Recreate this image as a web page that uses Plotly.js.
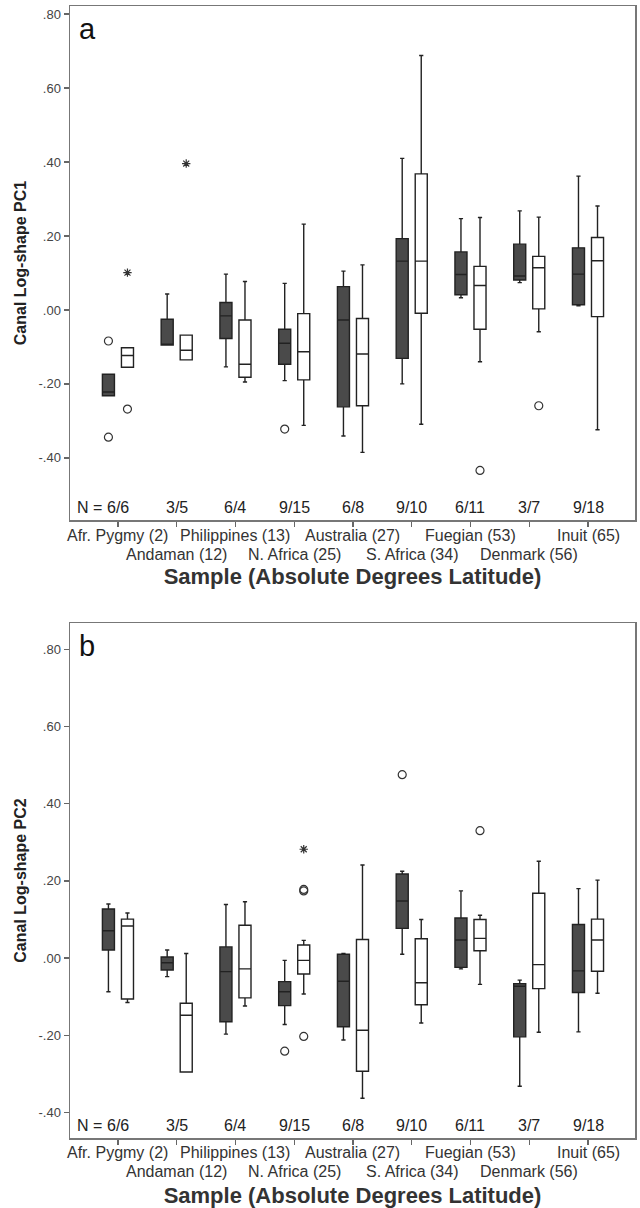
<!DOCTYPE html>
<html>
<head>
<meta charset="utf-8">
<script src="https://cdn.plot.ly/plotly-3.0.1.min.js"></script>
<style>html,body{margin:0;padding:0;background:#fff}#chart{width:640px;height:1208px}</style>
</head>
<body>
<div id="chart"></div>
<script>
// ---------- data ----------
const categories = ['Afr. Pygmy (2)','Andaman (12)','Philippines (13)','N. Africa (25)','Australia (27)','S. Africa (34)','Fuegian (53)','Denmark (56)','Inuit (65)'];
const nLabels = ['6/6','3/5','6/4','9/15','6/8','9/10','6/11','3/7','9/18'];
const yTickVals = [0.8, 0.6, 0.4, 0.2, 0.0, -0.2, -0.4];
const yTickText = ['.80','.60','.40','.20','.00','-.20','-.40'];

// Panel a: PC1, dark series
const pc1DarkLower  = [-0.232,-0.095,-0.154,-0.191,-0.341,-0.200, 0.033, 0.074, 0.011];
const pc1DarkQ1     = [-0.232,-0.095,-0.077,-0.147,-0.262,-0.131, 0.041, 0.081, 0.014];
const pc1DarkMedian = [-0.222,-0.093,-0.016,-0.090,-0.027, 0.132, 0.096, 0.092, 0.097];
const pc1DarkQ3     = [-0.174,-0.025, 0.020,-0.052, 0.063, 0.193, 0.157, 0.178, 0.168];
const pc1DarkUpper  = [-0.174, 0.043, 0.097, 0.072, 0.105, 0.410, 0.247, 0.268, 0.362];
// Panel a: PC1, white series
const pc1WhiteLower  = [-0.155,-0.135,-0.195,-0.312,-0.385,-0.309,-0.140,-0.059,-0.324];
const pc1WhiteQ1     = [-0.155,-0.135,-0.182,-0.189,-0.259,-0.009,-0.052, 0.003,-0.018];
const pc1WhiteMedian = [-0.123,-0.109,-0.147,-0.113,-0.119, 0.132, 0.066, 0.114, 0.133];
const pc1WhiteQ3     = [-0.102,-0.068,-0.027,-0.010,-0.023, 0.368, 0.118, 0.145, 0.196];
const pc1WhiteUpper  = [-0.102,-0.068, 0.077, 0.232, 0.122, 0.688, 0.250, 0.251, 0.281];
// Panel a outliers (category index, value)
const pc1DarkOutCat   = [0, 0, 3];
const pc1DarkOutVal   = [-0.084, -0.344, -0.322];
const pc1WhiteOutCat  = [0, 6, 7];
const pc1WhiteOutVal  = [-0.268, -0.434, -0.259];
const pc1WhiteStarCat = [0, 1];
const pc1WhiteStarVal = [0.101, 0.396];

// Panel b: PC2, dark series
const pc2DarkLower  = [-0.087,-0.048,-0.197,-0.172,-0.212, 0.010,-0.028,-0.332,-0.191];
const pc2DarkQ1     = [ 0.021,-0.031,-0.165,-0.123,-0.178, 0.077,-0.024,-0.204,-0.089];
const pc2DarkMedian = [ 0.071,-0.012,-0.035,-0.087,-0.060, 0.148, 0.047,-0.073,-0.033];
const pc2DarkQ3     = [ 0.127, 0.003, 0.029,-0.061, 0.010, 0.218, 0.104,-0.066, 0.087];
const pc2DarkUpper  = [ 0.140, 0.021, 0.139,-0.006, 0.012, 0.225, 0.174,-0.057, 0.180];
// Panel b: PC2, white series
const pc2WhiteLower  = [-0.115,-0.295,-0.124,-0.093,-0.363,-0.168,-0.068,-0.192,-0.091];
const pc2WhiteQ1     = [-0.106,-0.295,-0.103,-0.041,-0.293,-0.121, 0.019,-0.079,-0.034];
const pc2WhiteMedian = [ 0.083,-0.148,-0.028,-0.006,-0.187,-0.064, 0.051,-0.017, 0.047];
const pc2WhiteQ3     = [ 0.101,-0.117, 0.085, 0.034, 0.048, 0.050, 0.100, 0.168, 0.101];
const pc2WhiteUpper  = [ 0.117, 0.012, 0.146, 0.046, 0.241, 0.100, 0.111, 0.251, 0.202];
// Panel b outliers
const pc2DarkOutCat   = [3, 5];
const pc2DarkOutVal   = [-0.241, 0.475];
const pc2WhiteOutCat  = [3, 3, 3, 6];
const pc2WhiteOutVal  = [0.174, 0.178, -0.203, 0.330];
const pc2WhiteStarCat = [3];
const pc2WhiteStarVal = [0.282];

// ---------- styling / layout constants ----------
const FONT = '"Liberation Sans", Arial, sans-serif';
const OFFSET = 0.162;   // half distance between paired boxes (category units)
const BOXW = 0.205;     // box width (category units)
const DARK = '#4a4a4a';
const EDGE = '#222222';
const idx = categories.map((_, i) => i);
const shift = (arr, s) => arr.map(i => i + s * OFFSET);

function boxTrace(xa, ya, side, lower, q1, med, q3, upper, fill) {
  return {
    type: 'box', xaxis: xa, yaxis: ya,
    x: shift(idx, side), lowerfence: lower, q1: q1, median: med, q3: q3, upperfence: upper,
    width: BOXW, whiskerwidth: 0.35, boxpoints: false,
    fillcolor: fill, line: {color: EDGE, width: 1.4},
    hoverinfo: 'skip', showlegend: false
  };
}
function outTrace(xa, ya, side, cats, vals, symbol, size) {
  return {
    type: 'scatter', mode: 'markers', xaxis: xa, yaxis: ya,
    x: shift(cats, side), y: vals,
    marker: {symbol: symbol, size: size, color: '#333', line: {color: '#333', width: 1.2}},
    hoverinfo: 'skip', showlegend: false
  };
}

const data = [
  boxTrace('x','y',-1, pc1DarkLower, pc1DarkQ1, pc1DarkMedian, pc1DarkQ3, pc1DarkUpper, DARK),
  boxTrace('x','y', 1, pc1WhiteLower, pc1WhiteQ1, pc1WhiteMedian, pc1WhiteQ3, pc1WhiteUpper, '#ffffff'),
  outTrace('x','y',-1, pc1DarkOutCat, pc1DarkOutVal, 'circle-open', 8),
  outTrace('x','y', 1, pc1WhiteOutCat, pc1WhiteOutVal, 'circle-open', 8),
  outTrace('x','y', 1, pc1WhiteStarCat, pc1WhiteStarVal, 'asterisk-open', 7),
  boxTrace('x2','y2',-1, pc2DarkLower, pc2DarkQ1, pc2DarkMedian, pc2DarkQ3, pc2DarkUpper, DARK),
  boxTrace('x2','y2', 1, pc2WhiteLower, pc2WhiteQ1, pc2WhiteMedian, pc2WhiteQ3, pc2WhiteUpper, '#ffffff'),
  outTrace('x2','y2',-1, pc2DarkOutCat, pc2DarkOutVal, 'circle-open', 8),
  outTrace('x2','y2', 1, pc2WhiteOutCat, pc2WhiteOutVal, 'circle-open', 8),
  outTrace('x2','y2', 1, pc2WhiteStarCat, pc2WhiteStarVal, 'asterisk-open', 7)
];

const W = 640, H = 1208;
const xDomain = [70 / W, 635 / W];
function xAxis(anchor, standoff) {
  return {
    anchor: anchor,
    domain: xDomain, range: [-0.816, 8.8], tickvals: idx, showticklabels: false,
    ticks: 'outside', ticklen: 5, tickcolor: '#666', tickwidth: 1.3,
    showline: true, mirror: true, linecolor: '#777', linewidth: 1.5,
    showgrid: false, zeroline: false,
    title: {text: 'Sample (Absolute Degrees Latitude)', font: {family: FONT, size: 22, color: '#333', weight: 'bold'}, standoff: standoff}
  };
}
const yAxisBase = {
  tickvals: yTickVals, ticktext: yTickText,
  ticks: 'outside', ticklen: 5, tickcolor: '#666', tickwidth: 1.3,
  tickfont: {family: FONT, size: 13, color: '#444'},
  showline: true, mirror: true, linecolor: '#777', linewidth: 1.5,
  showgrid: false, zeroline: false
};

const annotations = [];
function panelText(xa, ya, letter, rowShift1, rowShift2) {
  annotations.push({xref: xa + ' domain', yref: ya + ' domain', x: 0.012, y: 0.99, xanchor: 'left', yanchor: 'top',
    text: letter, showarrow: false, font: {family: FONT, size: 29, color: '#111'}});
  annotations.push({xref: xa + ' domain', yref: ya + ' domain', x: 0.008, y: 0, xanchor: 'left', yanchor: 'bottom', yshift: 2,
    text: 'N =', showarrow: false, font: {family: FONT, size: 16, color: '#222'}});
  categories.forEach((c, i) => {
    annotations.push({xref: xa, yref: ya + ' domain', x: i, y: 0, xanchor: 'center', yanchor: 'bottom', yshift: 2,
      text: nLabels[i], showarrow: false, font: {family: FONT, size: 16, color: '#222'}});
    annotations.push({xref: xa, yref: ya + ' domain', x: i, y: 0, xanchor: 'center', yanchor: 'top',
      yshift: i % 2 === 0 ? rowShift1 : rowShift2,
      text: c, showarrow: false, font: {family: FONT, size: 16, color: '#333'}});
  });
}
panelText('x', 'y', 'a', -5, -24);
panelText('x2', 'y2', 'b', -4, -23);

const yTitleFont = {family: FONT, size: 16, color: '#222', weight: 'bold'};
const layout = {
  width: W, height: H,
  margin: {l: 0, r: 0, t: 0, b: 0},
  paper_bgcolor: '#fff', plot_bgcolor: '#fff',
  font: {family: FONT, color: '#333'},
  showlegend: false, boxmode: 'overlay',
  xaxis: xAxis('y', 43),
  xaxis2: xAxis('y2', 45),
  yaxis: Object.assign({}, yAxisBase, {anchor: 'x', domain: [1 - 520 / H, 1 - 6 / H], range: [-0.568, 0.822],
    title: {text: 'Canal Log-shape PC1', font: yTitleFont, standoff: 8}}),
  yaxis2: Object.assign({}, yAxisBase, {anchor: 'x2', domain: [1 - 1138 / H, 1 - 623 / H], range: [-0.466, 0.868],
    title: {text: 'Canal Log-shape PC2', font: yTitleFont, standoff: 8}}),
  annotations: annotations
};

Plotly.newPlot('chart', data, layout, {displayModeBar: false, staticPlot: true});
</script>
</body>
</html>
